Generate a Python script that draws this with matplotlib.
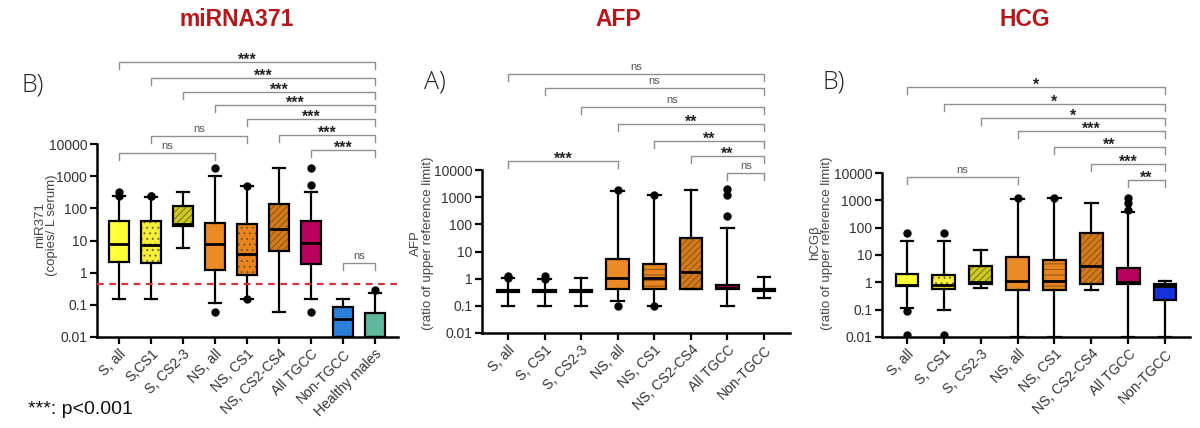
import numpy as np
import matplotlib
matplotlib.use('Agg')
import matplotlib.pyplot as plt
from matplotlib import transforms

plt.rcParams['font.family'] = ['Liberation Sans', 'DejaVu Sans']
plt.rcParams['hatch.linewidth'] = 0.7

W, H = 1200, 428

# ---- data: miRNA371 ----
mir_cats = ['S, all', 'S,CS1', 'S, CS2-3', 'NS, all', 'NS, CS1', 'NS, CS2-CS4',
            'All TGCC', 'Non-TGCC', 'Healthy males']
mir_q1 = [2.2, 2.0, 28.6, 1.24, 0.82, 4.8, 1.86, 0.01, 0.01]
mir_med = [7.9, 7.0, 33, 7.7, 3.9, 23, 8.3, 0.035, 0.01]
mir_q3 = [41, 39, 118, 36, 33, 137, 39, 0.087, 0.057]
mir_lo = [0.157, 0.157, 5.8, 0.115, 0.157, 0.06, 0.157, 0.01, 0.01]
mir_hi = [245, 230, 320, 1030, 500, 1750, 330, 0.157, 0.235]
mir_out = [[245, 330], [245, 245], [], [1800, 0.06], [500, 0.157], [],
           [1800, 530, 0.06], [], [0.28]]
mir_cutoff = 0.45
mir_pairs = [(0, 8, '***'), (1, 8, '***'), (2, 8, '***'), (3, 8, '***'), (4, 8, '***'),
             (5, 8, '***'), (6, 8, '***'), (1, 4, 'ns'), (0, 3, 'ns'), (7, 8, 'ns')]

# ---- data: AFP ----
afp_cats = ['S, all', 'S, CS1', 'S, CS2-3', 'NS, all', 'NS, CS1', 'NS, CS2-CS4',
            'All TGCC', 'Non-TGCC']
afp_q1 = [0.33, 0.33, 0.33, 0.42, 0.42, 0.42, 0.40, 0.36]
afp_med = [0.36, 0.36, 0.36, 1.06, 1.06, 1.7, 0.47, 0.40]
afp_q3 = [0.39, 0.39, 0.39, 5.3, 3.6, 31, 0.60, 0.43]
afp_lo = [0.10, 0.10, 0.10, 0.155, 0.10, 0.42, 0.10, 0.20]
afp_hi = [1.1, 1.0, 1.05, 1700, 1200, 1900, 73, 1.12]
afp_out = [[1.1, 1.3], [1.0, 1.3], [], [1800, 0.10], [1250, 0.10], [],
           [2000, 1230, 208], []]
afp_pairs = [(0, 7, 'ns'), (1, 7, 'ns'), (2, 7, 'ns'), (3, 7, '**'), (4, 7, '**'),
             (5, 7, '**'), (6, 7, 'ns'), (0, 3, '***')]

# ---- data: HCG ----
hcg_cats = afp_cats
hcg_q1 = [0.76, 0.56, 0.9, 0.54, 0.54, 0.85, 0.9, 0.22]
hcg_med = [0.8, 0.82, 1.0, 1.1, 1.1, 3.8, 1.0, 0.75]
hcg_q3 = [1.95, 1.8, 3.9, 8.3, 6.7, 64, 3.4, 0.85]
hcg_lo = [0.12, 0.10, 0.62, 0.01, 0.01, 0.51, 0.01, 0.01]
hcg_hi = [32, 32, 15.5, 1100, 1260, 830, 360, 1.1]
hcg_out = [[62, 0.09, 0.012], [62, 0.012], [], [1200], [1260], [],
           [1260, 830, 440], []]
hcg_pairs = [(0, 7, '*'), (1, 7, '*'), (2, 7, '*'), (3, 7, '***'), (4, 7, '**'),
             (5, 7, '***'), (6, 7, '**'), (0, 3, 'ns')]

# styles
yel, yel2, olive = '#ffff38', '#f4ef3c', '#cbcb25'
ora, ora2, brown = '#ec8a26', '#e8841f', '#d47a1c'
mir_colors = [yel, yel2, olive, ora, ora2, brown, '#b8005c', '#2b7fd8', '#5fb89c']
mir_hatch = [None, '...', '/////', None, '...', '/////', None, None, None]
afp_colors = [yel, yel2, olive, ora, ora2, brown, '#b3005a', '#2b7fd8']
afp_hatch = [None, '...', '/////', None, '---', '/////', None, None]
hcg_colors = [yel, yel2, olive, ora, ora2, brown, '#b8005c', '#1530d8']
hcg_hatch = afp_hatch

fig = plt.figure(figsize=(12, 4.28), dpi=100)


def px_axes(x0, x1, ytop, ybot):
    return fig.add_axes([x0 / W, 1 - ybot / H, (x1 - x0) / W, (ybot - ytop) / H])


def boxpanel(ax, cats, q1, med, q3, lo, hi, out, colors, hatches, xlim, capw):
    stats = []
    for i in range(len(cats)):
        stats.append(dict(q1=q1[i], med=med[i], q3=q3[i], whislo=lo[i],
                          whishi=hi[i], fliers=np.array(out[i])))
    res = ax.bxp(stats, positions=range(len(cats)), widths=0.62,
                 capwidths=capw, patch_artist=True,
                 boxprops=dict(linewidth=1.6, edgecolor='black'),
                 medianprops=dict(color='black', linewidth=2),
                 whiskerprops=dict(color='black', linewidth=1.6),
                 capprops=dict(color='black', linewidth=1.6),
                 flierprops=dict(marker='o', markerfacecolor='black',
                                 markeredgecolor='black', markersize=5))
    for b, c, h in zip(res['boxes'], colors, hatches):
        b.set_facecolor(c)
        if h:
            b.set_hatch(h)
            b._hatch_color = (0.45, 0.3, 0.05, 0.8)
    ax.set_yscale('log')
    ax.set_ylim(0.01, 10000)
    ax.set_xlim(*xlim)
    ax.set_yticks([0.01, 0.1, 1, 10, 100, 1000, 10000])
    ax.set_yticklabels(['0.01', '0.1', '1', '10', '100', '1000', '10000'])
    ax.minorticks_off()
    ax.set_xticks(range(len(cats)))
    ax.set_xticklabels(cats, rotation=45, ha='right', rotation_mode='anchor')
    for s in ['top', 'right']:
        ax.spines[s].set_visible(False)
    for s in ['left', 'bottom']:
        ax.spines[s].set_linewidth(1.8)
    ax.tick_params(direction='out', length=5, width=1.6, labelsize=10,
                   labelcolor='#333333', pad=2)
    ax.patch.set_alpha(0)


def brackets(ax, pairs, levels):
    tr = transforms.blended_transform_factory(ax.transData, fig.transFigure)
    d = 7 / H
    for (i, j, lab), yp in zip(pairs, levels):
        y = 1 - yp / H
        ax.plot([i, i, j, j], [y - d, y, y, y - d], color='#8f8f8f', lw=1,
                transform=tr, clip_on=False)
        if lab == 'ns':
            ax.text((i + j) / 2, y + 4 / H, lab, transform=tr, ha='center',
                    va='baseline', fontsize=8, color='#555555')
        else:
            ax.text((i + j) / 2, y - 3 / H, lab, transform=tr, ha='center',
                    va='baseline', fontsize=11.5, fontweight='bold', color='#222222')


# panel 1
ax1 = px_axes(97, 398, 144, 337)
boxpanel(ax1, mir_cats, mir_q1, mir_med, mir_q3, mir_lo, mir_hi, mir_out,
         mir_colors, mir_hatch, (-0.69, 8.72), 0.37)
ax1.axhline(mir_cutoff, color='#d2343c', lw=1.6, ls=(0, (3, 2.5)), zorder=5)
brackets(ax1, mir_pairs, [62, 78, 92, 105, 119, 135, 150, 136, 153, 263])

# panel 2
ax2 = px_axes(482, 790, 170, 333)
boxpanel(ax2, afp_cats, afp_q1, afp_med, afp_q3, afp_lo, afp_hi, afp_out,
         afp_colors, afp_hatch, (-0.71, 7.71), 0.34)
brackets(ax2, afp_pairs, [74, 88, 107, 124, 141, 156, 173, 161])

# panel 3
ax3 = px_axes(882, 1190, 173, 337)
boxpanel(ax3, hcg_cats, hcg_q1, hcg_med, hcg_q3, hcg_lo, hcg_hi, hcg_out,
         hcg_colors, hcg_hatch, (-0.68, 7.68), 0.34)
brackets(ax3, hcg_pairs, [87, 104, 118, 131, 147, 164, 180, 177])

# titles, panel letters, axis labels
red = '#b3161b'
for x, t in [(237, 'miRNA371'), (618, 'AFP'), (1025, 'HCG')]:
    fig.text(x / W, 1 - 20 / H, t, ha='center', va='center', fontsize=16.5,
             fontweight='bold', color=red)
for x, y, t in [(22, 85, 'B)'), (424, 82, 'A)'), (822, 82, 'B)')]:
    fig.text(x / W, 1 - y / H, t, ha='left', va='center', fontsize=18,
             color='#222222', family=['Open Sans', 'DejaVu Sans'], fontweight='light')
for x, y, t in [(46, 225, 'miR371\n(copies/ L serum)'),
                (422, 243, 'AFP\n(ratio of upper reference limit)'),
                (821, 243, 'hCG\u03b2\n(ratio of upper reference limit)')]:
    fig.text(x / W, 1 - y / H, t, ha='center', va='center', rotation=90,
             fontsize=9.5, color='#444444', linespacing=1.0)

fig.text(28 / W, 1 - 410 / H, '***: p<0.001', ha='left', va='center',
         fontsize=14, color='#111111')

fig.savefig('out.png', dpi=100)
